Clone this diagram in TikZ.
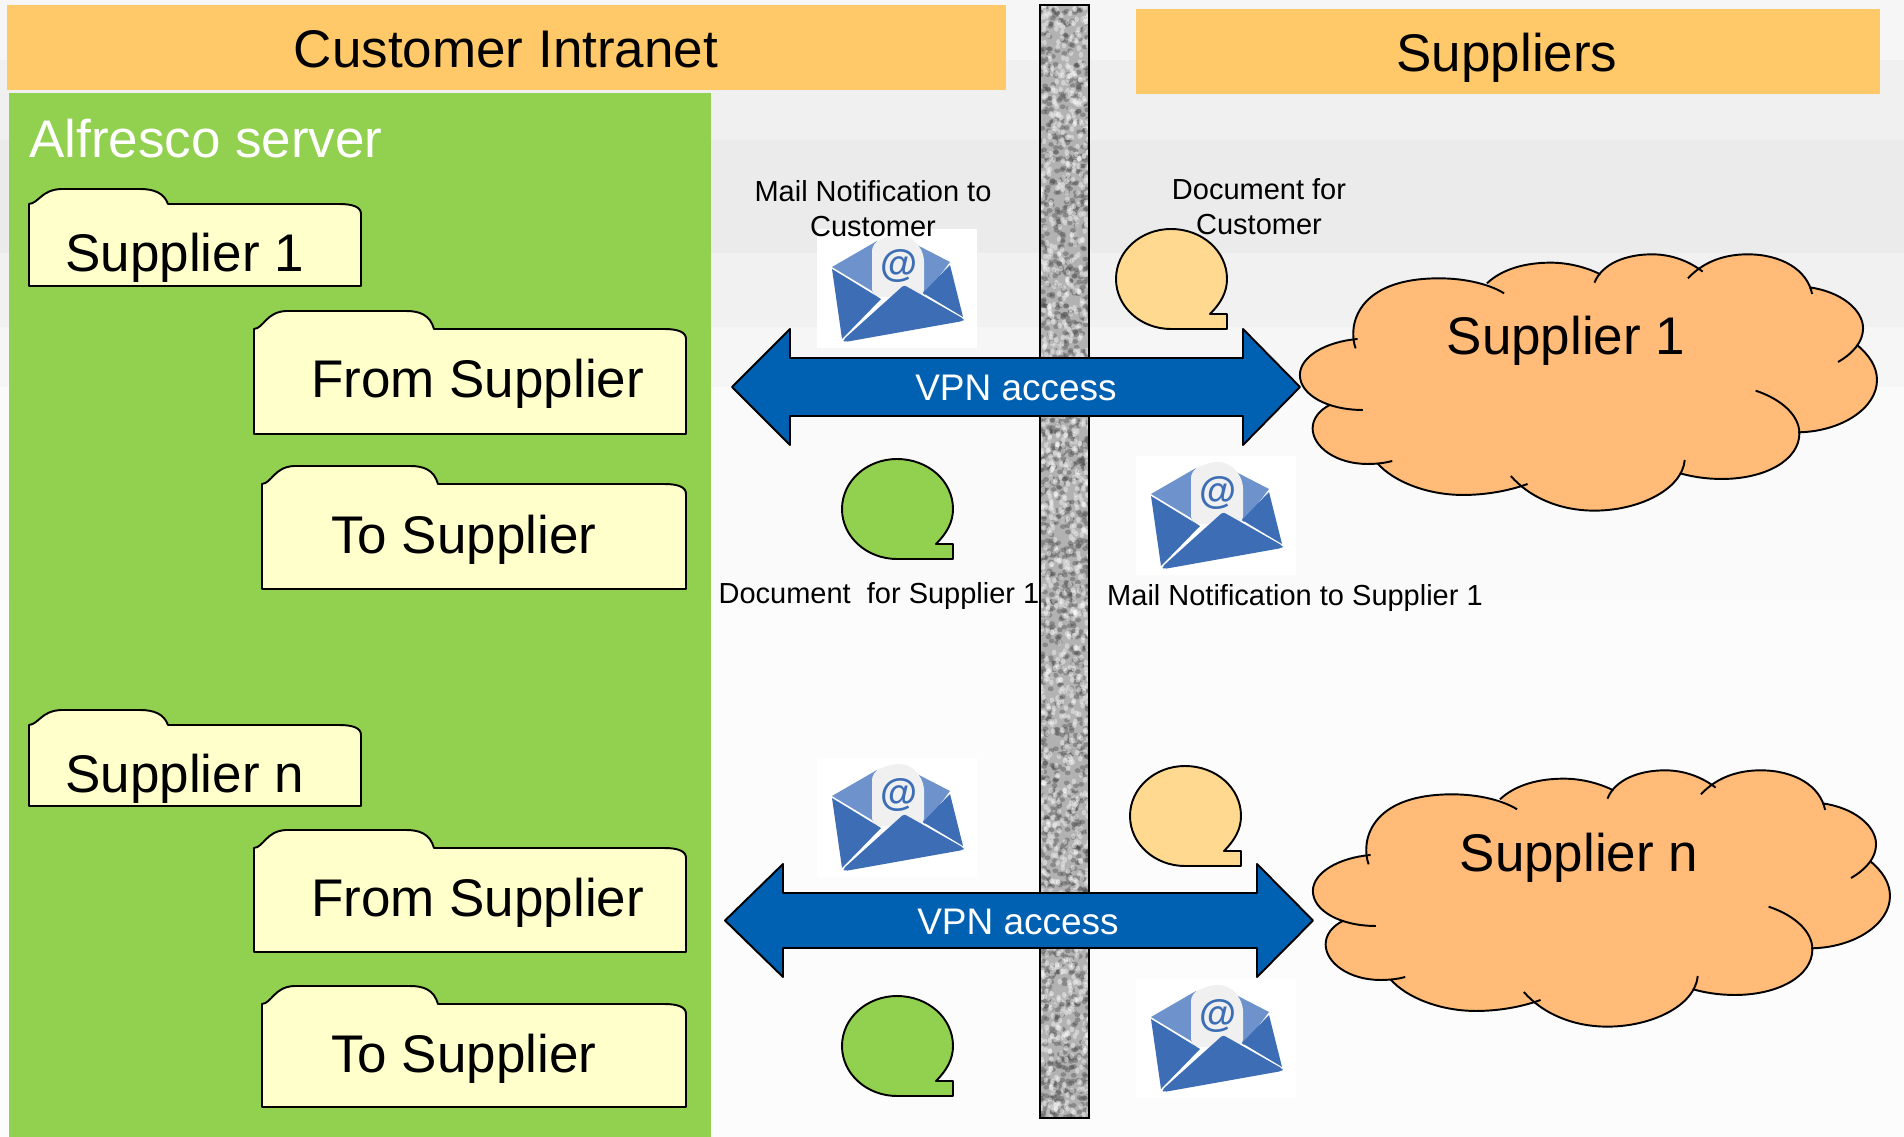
\documentclass[tikz,border=0pt]{standalone}
\usepackage{fontspec}
\setmainfont{Liberation Sans}
\definecolor{hdr}{HTML}{FFC869}
\definecolor{srv}{HTML}{92D050}
\definecolor{fold}{HTML}{FFFFCC}
\definecolor{cloudc}{HTML}{FFBB77}
\definecolor{peach}{HTML}{FFD98F}
\definecolor{vpn}{HTML}{0060B2}
\definecolor{envd}{HTML}{3C6DB5}
\definecolor{envl}{HTML}{6E92CB}
\newcommand{\fsz}[1]{\fontsize{\dimexpr #1pt*3/4\relax}{\dimexpr #1pt*3/4\relax}\selectfont}
\tikzset{
  x=0.75pt,y=-0.75pt,
  line/.style={draw=black,line width=1.45pt,line join=round},
  hdrtext/.style={anchor=base,inner sep=0,text=black,font=\fsz{53}},
  bigtext/.style={anchor=base,inner sep=0,text=black,font=\fsz{53}},
  vpntext/.style={anchor=base,inner sep=0,text=white,font=\fsz{37}},
  smalltext/.style={anchor=base,inner sep=0,text=black,font=\fsz{29}},
}
\newcommand{\folder}[6]{% xa yt xb yb tabw tabh
  \draw[line,fill=fold] (#1,#2+#6) .. controls (#1+10,#2+#6-1) and (#1+12,#2+1) .. (#1+32,#2)
    -- (#1+#5-28,#2) .. controls (#1+#5-14,#2) and (#1+#5-4,#2+4) .. (#1+#5,#2+#6)
    -- (#3-22,#2+#6) .. controls (#3-8,#2+#6) and (#3,#2+#6+3) .. (#3,#2+#6+10)
    -- (#3,#4) -- (#1,#4) -- cycle;}
\newcommand{\bubble}[3]{% x y colour
  \begin{scope}[shift={(#1,#2)}]
  \draw[line,fill=#3] (94,85) .. controls (105,74) and (111,63) .. (111,50)
    .. controls (111,22) and (86,0) .. (55,0) .. controls (25,0) and (0,22) .. (0,50)
    .. controls (0,78) and (25,100) .. (55,100) -- (111,100) -- (111,85) -- cycle;
  \end{scope}}
\newcommand{\envelope}[2]{%
  \begin{scope}[shift={(#1,#2)}]
  \fill[white] (0,0) rectangle (160,119);
  \fill[envl] (15,38) -- (60,12) -- (60,70) -- (55,62) -- cycle;
  \fill[envl] (100,16) -- (133,33) -- (108,66) -- (100,60) -- cycle;
  \fill[black!6,rounded corners=6pt] (55,68) -- (55,14) -- (78,5) -- (95,8) -- (107,24) -- (107,68) -- cycle;
  \node[inner sep=0,text=envd,font=\fsz{38}\bfseries] at (82,37) {@};
  \fill[envd] (15,40) -- (64,70) -- (25,110) -- cycle;
  \fill[envd] (133,36) -- (146,88) -- (106,64) -- cycle;
  \fill[envd,rounded corners=2pt] (87,56) -- (147,90) -- (146,92) -- (28,113) -- (26,111) -- cycle;
  \end{scope}}
\newcommand{\cloudfillpath}{(190,355) .. controls (170,290) and (190,145) .. (400,145) .. controls (470,145) and (530,165) .. (563,190)
  -- (520,160) .. controls (560,115) and (620,98) .. (680,98) .. controls (730,98) and (775,115) .. (805,133)
  -- (790,158) .. controls (810,100) and (870,73) .. (935,73) .. controls (985,73) and (1030,95) .. (1062,125)
  -- (1025,145) .. controls (1060,100) and (1110,73) .. (1175,73) .. controls (1260,73) and (1325,120) .. (1337,192)
  -- (1330,172) .. controls (1410,185) and (1465,240) .. (1465,295) .. controls (1465,335) and (1440,370) .. (1402,396)
  -- (1450,345) .. controls (1480,375) and (1500,410) .. (1500,450) .. controls (1500,535) and (1410,605) .. (1302,607)
  -- (1305,610) .. controls (1305,690) and (1220,747) .. (1110,747) .. controls (1070,747) and (1035,740) .. (1005,730)
  -- (1017,690) .. controls (1010,780) and (900,842) .. (790,842) .. controls (700,842) and (625,800) .. (580,738)
  -- (622,762) .. controls (570,785) and (510,795) .. (460,795) .. controls (370,795) and (285,755) .. (245,700)
  -- (282,693) .. controls (260,700) and (240,702) .. (220,702) .. controls (140,702) and (82,650) .. (82,595) .. controls (82,565) and (100,540) .. (125,525)
  -- (208,540) .. controls (120,540) and (50,495) .. (50,435) .. controls (50,380) and (115,335) .. (195,327) -- cycle}
\newcommand{\cloudshape}[2]{%
  \begin{scope}[shift={(#1,#2)},xscale=0.398,yscale=0.3333]
  \fill[cloudc] \cloudfillpath;
  \draw[line] (190,355) .. controls (170,290) and (190,145) .. (400,145) .. controls (470,145) and (530,165) .. (563,190);
  \draw[line] (520,160) .. controls (560,115) and (620,98) .. (680,98) .. controls (730,98) and (775,115) .. (805,133);
  \draw[line] (790,158) .. controls (810,100) and (870,73) .. (935,73) .. controls (985,73) and (1030,95) .. (1062,125);
  \draw[line] (1025,145) .. controls (1060,100) and (1110,73) .. (1175,73) .. controls (1260,73) and (1325,120) .. (1337,192);
  \draw[line] (1330,172) .. controls (1410,185) and (1465,240) .. (1465,295) .. controls (1465,335) and (1440,370) .. (1402,396);
  \draw[line] (1450,345) .. controls (1480,375) and (1500,410) .. (1500,450) .. controls (1500,535) and (1410,605) .. (1302,607);
  \draw[line] (1195,482) .. controls (1265,510) and (1305,560) .. (1305,610) .. controls (1305,690) and (1220,747) .. (1110,747) .. controls (1070,747) and (1035,740) .. (1005,730);
  \draw[line] (1017,690) .. controls (1010,780) and (900,842) .. (790,842) .. controls (700,842) and (625,800) .. (580,738);
  \draw[line] (622,762) .. controls (570,785) and (510,795) .. (460,795) .. controls (370,795) and (285,755) .. (245,700);
  \draw[line] (282,693) .. controls (260,700) and (240,702) .. (220,702) .. controls (140,702) and (82,650) .. (82,595) .. controls (82,565) and (100,540) .. (125,525);
  \draw[line] (208,540) .. controls (120,540) and (50,495) .. (50,435) .. controls (50,380) and (115,335) .. (195,327);
  \end{scope}}
\newcommand{\vpnarrow}[8]{% tipL baseL baseR tipR headTop shaftTop shaftBot headBot
  \draw[line,fill=vpn] (#1,{(#5+#8)/2}) -- (#2,#5) -- (#2,#6) -- (#3,#6) -- (#3,#5) -- (#4,{(#5+#8)/2})
    -- (#3,#8) -- (#3,#7) -- (#2,#7) -- (#2,#8) -- cycle;}
\begin{document}
\begin{tikzpicture}
\useasboundingbox (0,0) rectangle (1904,1137);
% background bands
\fill[white] (0,0) rectangle (1904,1137);
\fill[black!3.5] (0,0) rectangle (1904,60);
\fill[black!6] (0,60) rectangle (1904,140);
\fill[black!8] (0,140) rectangle (1904,253);
\fill[black!5.5] (0,253) rectangle (1904,327);
\fill[black!3.5] (0,327) rectangle (1904,387);
\fill[black!2] (0,387) rectangle (1904,600);
\fill[black!1.2] (0,600) rectangle (1904,1137);
% headers
\fill[hdr] (7,5) rectangle (1006,90);
\fill[hdr] (1136,9) rectangle (1880,94);
\node[hdrtext] (custhdr) at (506,68) {Customer Intranet};
\node[hdrtext] (supphdr) at (1507,72) {Suppliers};
% server
\fill[srv] (9,93) rectangle (711,1137);
\node[anchor=base west,inner sep=0,text=white,font=\fsz{53}] (server) at (29,158) {Alfresco server};
% folders
\folder{29}{189}{361}{286}{139}{15}
\folder{254}{311}{686}{434}{180}{18}
\folder{262}{466}{686}{589}{176}{18}
\folder{29}{710}{361}{806}{139}{15}
\folder{254}{830}{686}{952}{180}{18}
\folder{262}{986}{686}{1107}{176}{18}
\node[bigtext,anchor=base west] (f1) at (65,272) {Supplier 1};
\node[bigtext,anchor=base west] (f2) at (311,398) {From Supplier};
\node[bigtext,anchor=base west] (f3) at (331,553) {To Supplier};
\node[bigtext,anchor=base west] (f4) at (65,792) {Supplier n};
\node[bigtext,anchor=base west] (f5) at (311,916) {From Supplier};
\node[bigtext,anchor=base west] (f6) at (331,1072) {To Supplier};
% wall
\fill[black!30] (1040,5) rectangle (1089,1118);
\begin{scope}
\clip (1040,5) rectangle (1089,1118);
\pgfmathsetseed{42}
\foreach \i in {1,...,1500} {
  \pgfmathsetmacro{\px}{1040+49*rnd}
  \pgfmathsetmacro{\py}{5+1113*rnd}
  \fill[black!70,opacity=0.4] (\px,\py) ellipse (2.2pt and 1.8pt);
}
\foreach \i in {1,...,1300} {
  \pgfmathsetmacro{\px}{1040+49*rnd}
  \pgfmathsetmacro{\py}{5+1113*rnd}
  \fill[white,opacity=0.4] (\px,\py) ellipse (1.7pt and 2.2pt);
}
\end{scope}
\draw[black,line width=1.6pt] (1040,5) rectangle (1089,1118);
% envelopes and bubbles
\envelope{817}{229}
\envelope{1136}{456}
\envelope{817}{758}
\envelope{1136}{979}
\bubble{1116}{229}{peach}
\bubble{842}{459}{srv}
\bubble{1130}{766}{peach}
\bubble{842}{996}{srv}
% arrows
\vpnarrow{732}{790}{1243}{1300}{329}{358}{416}{445}
\vpnarrow{725}{783}{1257}{1313}{864}{893}{948}{977}
\node[vpntext] (v1) at (1016,401) {VPN access};
\node[vpntext] (v2) at (1018,934) {VPN access};
% clouds
\cloudshape{1280}{230}
\cloudshape{1293}{746}
\node[bigtext] (c1) at (1566,355) {Supplier 1};
\node[bigtext] (c2) at (1579,871) {Supplier n};
% labels
\node[smalltext] (l1) at (873,202) {Mail Notification to};
\node[smalltext] (l2) at (873,237) {Customer};
\node[smalltext] (l3) at (1259,200) {Document for};
\node[smalltext] (l4) at (1259,235) {Customer};
\node[smalltext] (l5) at (879,603) {Document\ \ for Supplier 1};
\node[smalltext] (l6) at (1295,605) {Mail Notification to Supplier 1};
\end{tikzpicture}
\end{document}
